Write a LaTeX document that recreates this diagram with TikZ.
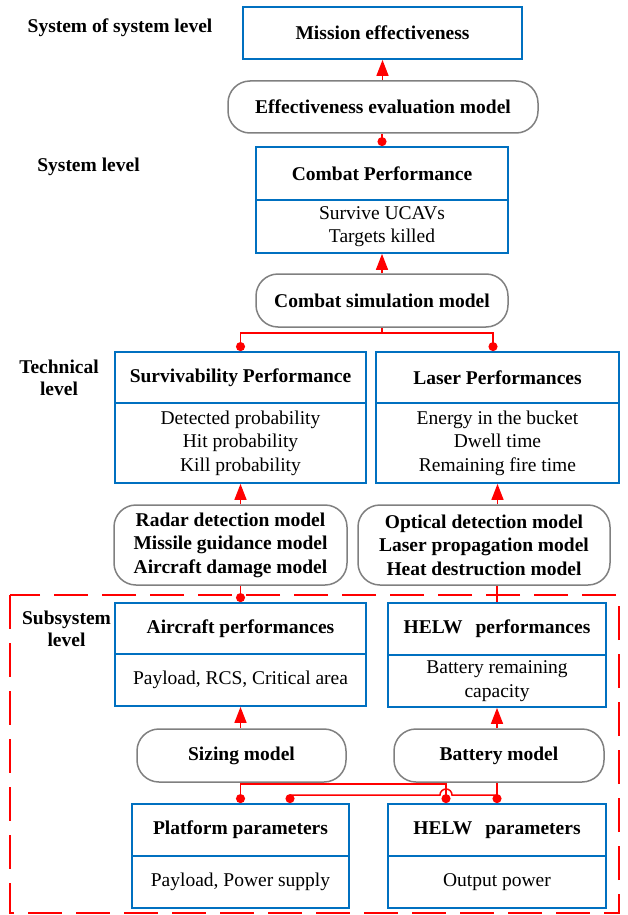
\documentclass[tikz,border=0pt]{standalone}
\usepackage{fontspec}
\setmainfont{Liberation Serif}
\usetikzlibrary{arrows.meta}
\definecolor{boxblue}{RGB}{0,112,192}
\definecolor{pillgray}{RGB}{128,128,128}
\begin{document}
\begin{tikzpicture}[x=1pt,y=-1pt,
  every node/.style={inner sep=0pt},
  bx/.style={draw=boxblue, line width=1.8pt, fill=white, align=center, font=\fontsize{19.5}{23.5}\selectfont},
  bxT/.style={bx, font=\fontsize{19.5}{23.5}\selectfont\bfseries},
  pill/.style={draw=pillgray, line width=1.5pt, rounded corners=22pt, fill=white, align=center, font=\fontsize{19.5}{23.5}\selectfont\bfseries},
  lbl/.style={font=\fontsize{19.5}{22}\selectfont\bfseries, align=center},
  arr/.style={red, line width=1.5pt, -{Triangle[length=16pt,width=12pt]}},
  dotl/.style={red, line width=1.5pt, {Circle[length=9pt]}-},
  plainl/.style={red, line width=1.5pt},
]
\useasboundingbox (0,0) rectangle (627,915);

% subsystem frame
\draw[red, line width=1.8pt, dash pattern=on 34pt off 14pt] (10,595) rectangle (619,913);

% level labels
\node[lbl] (l1) at (120,28) {System of system level};
\node[lbl] (l2) at (88.5,167) {System level};
\node[lbl] (l3) at (59,378) {Technical\\level};
\node[lbl] (l4) at (66.5,628.5) {Subsystem\\level};

% system of system
\node[bxT, minimum width=279pt, minimum height=52pt] (mis) at (382.5,33) {Mission effectiveness};
\node[pill, minimum width=310pt, minimum height=52pt] (eff) at (383,107) {Effectiveness evaluation model};

% system
\node[bxT, minimum width=252pt, minimum height=53pt] (cpT) at (382,173.5) {Combat Performance};
\node[bx, minimum width=252pt, minimum height=53pt] (cpB) at (382,226.5) {Survive UCAVs\\Targets killed};
\node[pill, minimum width=252pt, minimum height=53pt] (csm) at (382,300.5) {Combat simulation model};

% technical
\node[bxT, minimum width=251pt, minimum height=51pt] (svT) at (240.5,377.5) {Survivability Performance};
\node[bx, minimum width=251pt, minimum height=80pt] (svB) at (240.5,443) {Detected probability\\Hit probability\\Kill probability};
\node[bxT, minimum width=243pt, minimum height=51pt] (lpT) at (497.5,377.5) {Laser Performances};
\node[bx, minimum width=243pt, minimum height=80pt] (lpB) at (497.5,443) {Energy in the bucket\\Dwell time\\Remaining fire time};
\node[pill, minimum width=233pt, minimum height=80pt] (rad) at (230.5,545) {Radar detection model\\Missile guidance model\\Aircraft damage model};
\node[pill, minimum width=252pt, minimum height=80pt] (opt) at (484,545) {Optical detection model\\Laser propagation model\\Heat destruction model};

% subsystem
\node[bxT, minimum width=251pt, minimum height=51pt] (apT) at (240.5,628.5) {Aircraft performances};
\node[bx, minimum width=251pt, minimum height=52pt] (apB) at (240.5,680) {Payload, RCS, Critical area};
\node[bxT, minimum width=218pt, minimum height=52pt] (hpT) at (497,629) {HELW\hspace{13pt}performances};
\node[bx, minimum width=218pt, minimum height=52pt] (hpB) at (497,681) {Battery remaining\\capacity};
\node[pill, minimum width=209pt, minimum height=53pt] (siz) at (241.5,755.5) {Sizing model};
\node[pill, minimum width=210pt, minimum height=53pt] (bat) at (499,755.5) {Battery model};
\node[bxT, minimum width=217pt, minimum height=52pt] (ppT) at (240.5,830) {Platform parameters};
\node[bx, minimum width=217pt, minimum height=52pt] (ppB) at (240.5,882) {Payload, Power supply};
\node[bxT, minimum width=218pt, minimum height=52pt] (hppT) at (497,830) {HELW\hspace{13pt}parameters};
\node[bx, minimum width=218pt, minimum height=52pt] (hppB) at (497,882) {Output power};

% connectors
\draw[arr] (mis.south |- eff.north) -- (mis.south);
\draw[dotl] (cpT.north) -- (cpT.north |- eff.south);
\draw[arr] (cpB.south |- csm.north) -- (cpB.south);
\draw[dotl] (svT.north) -- (svT.north |- 0,333) -| (csm.south);
\coordinate (lpin) at ([xshift=-4.5pt]lpT.north);
\draw[dotl] (lpin) -- (lpin |- 0,333) -| (csm.south);
\draw[arr] (svB.south |- rad.north) -- (svB.south);
\draw[arr] (lpB.south |- opt.north) -- (lpB.south);
\draw[dotl] (apT.north) -- (apT.north |- rad.south);
\draw[plainl] (hpT.north) -- (hpT.north |- opt.south);
\draw[arr] (apB.south |- siz.north) -- (apB.south);
\draw[arr] (hpB.south |- bat.north) -- (hpB.south);
\draw[dotl] (ppT.north) -- (ppT.north |- siz.south);
\coordinate (hA) at ([xshift=-51pt]hppT.north);
\draw[dotl] (hA) -- (hA |- 0,784) -| (ppT.north |- siz.south);
\draw[dotl] (hppT.north) -- (hppT.north |- bat.south);
\coordinate (pA) at ([xshift=49.5pt]ppT.north);
\coordinate (hop) at (hA |- 0,795);
\draw[dotl] (pA) -- (pA |- 0,795) -- ([xshift=-6pt]hop) arc[start angle=180, end angle=0, radius=6pt] -- (hppT.north |- 0,795);
\end{tikzpicture}
\end{document}
